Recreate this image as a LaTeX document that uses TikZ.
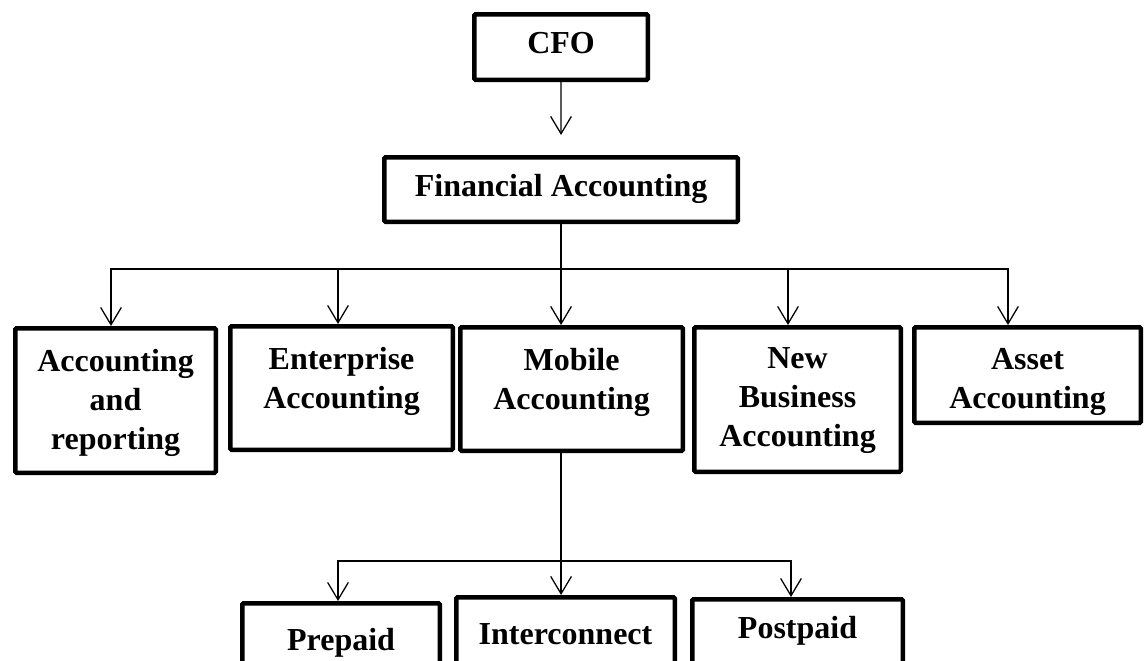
\documentclass[tikz,border=0pt]{standalone}
\usepackage{fontspec}
\setmainfont{Liberation Serif}
\usetikzlibrary{arrows.meta}
\tikzset{
  box/.style={draw, line width=3.4pt, rounded corners=1pt, inner sep=0pt, anchor=north west},
  lbl/.style={font=\bfseries\fontsize{24}{29.25}\selectfont, align=center, inner sep=0pt, anchor=north},
  conn/.style={line width=0.95pt, line join=miter},
  tipbarb/.tip={Straight Barb[length=13pt,width=15.5pt]},
  arr/.style={conn, -tipbarb},
  arr2/.style={conn, tipbarb-tipbarb}
}
\begin{document}
\begin{tikzpicture}[x=0.75pt, y=-0.75pt]
\clip (0,0) rectangle (1147,661);
\fill[white] (0,0) rectangle (1147,661);
% boxes
\node[box, minimum width=130.2pt, minimum height=49.2pt] (cfo) at (472,12) {};
\node[box, minimum width=265.2pt, minimum height=48.4pt] (fa) at (382,155) {};
\node[box, minimum width=150.4pt, minimum height=108.4pt] (b1) at (13,326) {};
\node[box, minimum width=166.9pt, minimum height=92.7pt] (b2) at (228,324) {};
\node[box, minimum width=166.9pt, minimum height=92.7pt] (b3) at (458,325) {};
\node[box, minimum width=154.9pt, minimum height=108.4pt] (b4) at (692,325) {};
\node[box, minimum width=169.9pt, minimum height=71.7pt] (b5) at (912,325) {};
\node[box, minimum width=148.2pt, minimum height=87pt] (p1) at (240,601) {};
\node[box, minimum width=163.9pt, minimum height=87pt] (p2) at (454,595) {};
\node[box, minimum width=157.9pt, minimum height=87pt] (p3) at (690,597) {};
% labels
\node[lbl] (tcfo) at ([yshift=-15pt]cfo.north) {CFO};
\node[lbl] (tfa) at ([yshift=-14.5pt]fa.north) {Financial Accounting};
\node[lbl] (tb1) at ([yshift=-17pt]b1.north) {Accounting\\and\\reporting};
\node[lbl] (tb2) at ([yshift=-17pt]b2.north) {Enterprise\\Accounting};
\node[lbl] (tb3) at ([yshift=-17pt]b3.north) {Mobile\\Accounting};
\node[lbl] (tb4) at ([yshift=-17pt]b4.north) {New\\Business\\Accounting};
\node[lbl] (tb5) at ([yshift=-17pt]b5.north) {Asset\\Accounting};
\node[lbl] (tp1) at ([yshift=-20.25pt]p1.north) {Prepaid};
\node[lbl] (tp2) at ([yshift=-21pt]p2.north) {Interconnect};
\node[lbl] (tp3) at ([yshift=-14.25pt]p3.north) {Postpaid};
% connectors
\coordinate (cfoEnd) at (561,135);
\draw[arr] (cfo.south) -- (cfoEnd);
\coordinate (busL) at (111,269);
\coordinate (busR) at (1008,269);
\coordinate (bus2) at (338,269);
\coordinate (bus4) at (788,269);
\draw[arr2] (busL |- b1.north) -- (busL) -- (busR) -- (busR |- b5.north);
\draw[arr] (fa.south) -- (fa.south |- b3.north);
\draw[arr] (bus2) -- (bus2 |- b2.north);
\draw[arr] (bus4) -- (bus4 |- b4.north);
\coordinate (pL) at (338,561);
\coordinate (pR) at (791,561);
\draw[arr] (fa.south |- b3.south) -- (fa.south |- p2.north);
\draw[arr2] (pL |- p1.north) -- (pL) -- (pR) -- (pR |- p3.north);
\end{tikzpicture}
\end{document}
